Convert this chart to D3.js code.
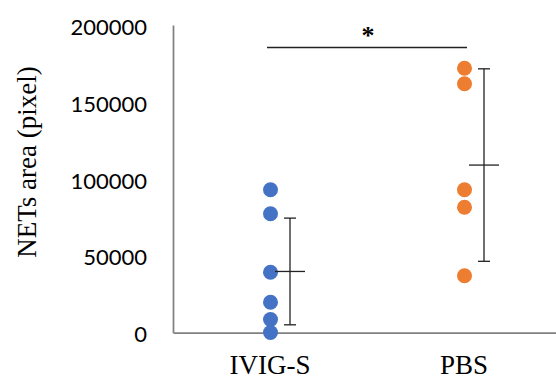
<!DOCTYPE html>
<html><head><meta charset="utf-8">
<script src="https://cdn.jsdelivr.net/npm/d3@7"></script>
<style>html,body{margin:0;padding:0;background:#fff;}</style>
</head><body>
<script>
const categories = ["IVIG-S", "PBS"];
const colors = ["#4472C4", "#ED7D31"];
const ivigValues = [92800, 77200, 39200, 19700, 8500, 0];
const pbsValues = [171900, 161800, 92800, 81500, 36900];
const means = [39700, 108900];
const errors = [34700, 62600];
const yTicks = [0, 50000, 100000, 150000, 200000];
const yTitle = "NETs area (pixel)";
const sigLabel = "*";

const W = 556, H = 380;
const svg = d3.select("body").append("svg").attr("width", W).attr("height", H);

const y = d3.scaleLinear().domain([0, 200000]).range([332.5, 25]);
const x = d3.scaleBand().domain(categories).range([173, 561]);
const cx = c => x(c) + x.bandwidth() / 2;

// Y axis
const yAxis = svg.append("g").attr("transform", "translate(173,0)")
  .call(d3.axisLeft(y).tickValues(yTicks).tickSize(0).tickPadding(26).tickFormat(d3.format("d")));
yAxis.select(".domain").attr("stroke", "#808080").attr("stroke-width", 1.75);
yAxis.selectAll("text").attr("font-family", "Lato, sans-serif").attr("font-size", 22)
  .attr("fill", "#000").attr("dy", "0.42em");

// X axis
const xAxis = svg.append("g").attr("transform", "translate(0,332.5)")
  .call(d3.axisBottom(x).tickSize(0).tickPadding(0));
xAxis.select(".domain").attr("stroke", "#808080").attr("stroke-width", 1.75);
xAxis.selectAll("text").attr("font-family", "'Liberation Serif', 'Times New Roman', serif")
  .attr("font-size", 27).attr("fill", "#000").attr("dy", null).attr("y", 41.5);

// Y title
svg.append("text").attr("transform", "translate(36,162) rotate(-90)")
  .attr("text-anchor", "middle").attr("font-family", "'Liberation Serif', 'Times New Roman', serif")
  .attr("font-size", 27).attr("fill", "#000").text(yTitle);

// Points
const series = [ivigValues, pbsValues];
series.forEach((vals, i) => {
  svg.append("g").selectAll("circle").data(vals).enter().append("circle")
    .attr("cx", cx(categories[i]) + 0.5).attr("cy", d => y(d)).attr("r", 7.5)
    .attr("fill", colors[i]);
});

// Error bars & means
categories.forEach((c, i) => {
  const ex = cx(c) + 20;
  const g = svg.append("g").attr("stroke", "#222").attr("stroke-width", 1.3);
  g.append("line").attr("x1", ex).attr("x2", ex).attr("y1", y(means[i] + errors[i])).attr("y2", y(means[i] - errors[i]));
  g.append("line").attr("x1", ex - 6).attr("x2", ex + 6).attr("y1", y(means[i] + errors[i])).attr("y2", y(means[i] + errors[i]));
  g.append("line").attr("x1", ex - 6).attr("x2", ex + 6).attr("y1", y(means[i] - errors[i])).attr("y2", y(means[i] - errors[i]));
  g.append("line").attr("x1", ex - 15).attr("x2", ex + 15).attr("y1", y(means[i])).attr("y2", y(means[i]));
});

// Significance bracket
svg.append("line").attr("x1", 267).attr("x2", 467).attr("y1", 47.5).attr("y2", 47.5)
  .attr("stroke", "#222").attr("stroke-width", 1.3);
svg.append("text").attr("x", 368).attr("y", 44).attr("text-anchor", "middle")
  .attr("font-family", "'Liberation Serif', serif").attr("font-size", 26).attr("font-weight", "bold")
  .attr("fill", "#000").text(sigLabel);
</script>
</body></html>
